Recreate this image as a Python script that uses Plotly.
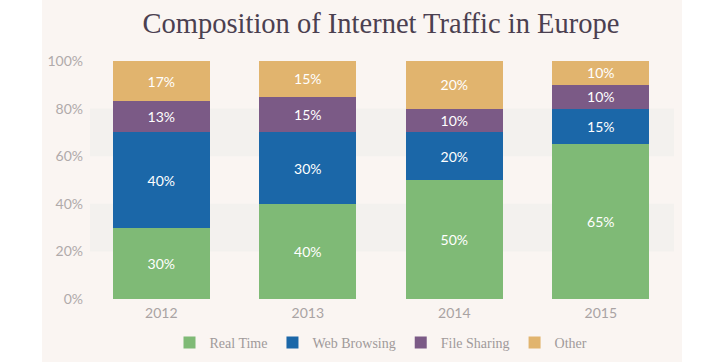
import plotly.graph_objects as go

years = ["2012", "2013", "2014", "2015"]
real_time = [30, 40, 50, 65]
web_browsing = [40, 30, 20, 15]
file_sharing = [13, 15, 10, 10]
other = [17, 15, 20, 10]
series_names = ["Real Time", "Web Browsing", "File Sharing", "Other"]
series_colors = ["#7fba76", "#1b67a8", "#7b5a86", "#e1b46e"]
y_ticks = [0, 20, 40, 60, 80, 100]
y_tick_labels = ["0%", "20%", "40%", "60%", "80%", "100%"]

fig = go.Figure()
for name, vals, col in zip(series_names, [real_time, web_browsing, file_sharing, other], series_colors):
    fig.add_trace(go.Bar(
        x=years, y=vals, name=name,
        marker=dict(color=col, line=dict(width=0)),
        text=[f"{v}%" for v in vals],
        textposition="inside", insidetextanchor="middle",
        textfont=dict(color="white", size=14, family="Lato"),
        textangle=0,
        hoverinfo="skip",
    ))

# Plot-area px: left 88, right 674, top 61, bottom 299
W, H = 724, 362
L, R, T, B = 88, 674, 61, 299
pw, ph = R - L, B - T
shapes = [
    dict(type="rect", xref="paper", yref="paper",
         x0=(42 - L) / pw, x1=(682 - L) / pw,
         y0=(B - H) / ph, y1=(B - 0) / ph,
         fillcolor="#faf5f2", line=dict(width=0), layer="below"),
]
for lo, hi in [(20, 40), (60, 80)]:
    shapes.append(dict(type="rect", xref="paper", yref="y",
                       x0=(90 - L) / pw, x1=1, y0=lo, y1=hi,
                       fillcolor="#f3f1ee", line=dict(width=0), layer="below"))

fig.update_layout(
    width=W, height=H,
    margin=dict(l=L, r=W - R, t=T, b=H - B, autoexpand=False),
    paper_bgcolor="white",
    plot_bgcolor="rgba(0,0,0,0)",
    barmode="stack",
    bargap=0.34,
    shapes=shapes,
    title=dict(text="Composition of Internet Traffic in Europe",
               x=381 / W, xanchor="center", y=1 - 23 / H, yanchor="middle",
               font=dict(family="Liberation Serif", size=28.5, color="#4b4050")),
    xaxis=dict(showgrid=False, zeroline=False, showline=False, ticks="",
               tickfont=dict(family="Lato", size=14, color="#a9a3a3"),
               ticklabelstandoff=4),
    yaxis=dict(range=[0, 100], tickvals=y_ticks, ticktext=y_tick_labels,
               showgrid=False, zeroline=False, showline=False, ticks="",
               tickfont=dict(family="Lato", size=14, color="#b0aaaa"),
               ticklabelstandoff=4),
    legend=dict(orientation="h", x=0.5, xanchor="center",
                y=(B - 343) / ph, yanchor="middle", traceorder="normal",
                itemwidth=30,
                font=dict(family="Liberation Serif", size=14, color="#a09a9a"),
                bgcolor="rgba(0,0,0,0)"),
    showlegend=True,
)

fig.write_html("out.html", config={"displayModeBar": False},
               post_script="document.body.style.margin='0';")
